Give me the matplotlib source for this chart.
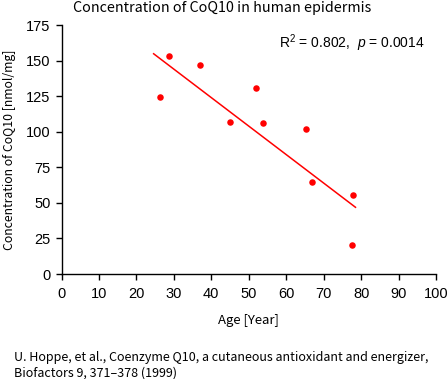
import matplotlib
matplotlib.use('Agg')
import matplotlib.pyplot as plt

# Data
ages = [26.3, 28.6, 37.1, 44.9, 52.0, 53.8, 65.2, 66.8, 77.9, 77.6]
coq10 = [124.1, 153.4, 146.6, 106.5, 130.9, 105.8, 101.6, 65.0, 55.6, 20.6]

# Regression line end points as drawn in the reference
fit_x = [24.6, 78.5]
fit_y = [154.8, 46.9]

x_ticks = [0, 10, 20, 30, 40, 50, 60, 70, 80, 90, 100]
y_ticks = [0, 25, 50, 75, 100, 125, 150, 175]

title = 'Concentration of CoQ10 in human epidermis'
x_label = 'Age [Year]'
y_label = 'Concentration of CoQ10 [nmol/mg]'
stats_text = r'R$^2$ = 0.802,  $p$ = 0.0014'
citation = ('U. Hoppe, et al., Coenzyme Q10, a cutaneous antioxidant and energizer,\n'
            'Biofactors 9, 371\u2013378 (1999)')

plt.rcParams['font.family'] = ['Noto Sans CJK JP', 'DejaVu Sans']
plt.rcParams['mathtext.fontset'] = 'custom'
plt.rcParams['mathtext.rm'] = 'Liberation Sans'
plt.rcParams['mathtext.it'] = 'Liberation Sans:italic'

fig = plt.figure(figsize=(4.47, 3.79), dpi=100)
ax = fig.add_axes([0.1376, 0.277, 0.8378, 0.657])

ax.scatter(ages, coq10, s=22, color='#ff0000', zorder=3, linewidths=0)
ax.plot(fit_x, fit_y, color='#ff0000', linewidth=1.1)

ax.set_xlim(0, 100)
ax.set_ylim(0, 175)
ax.set_xticks(x_ticks)
ax.set_yticks(y_ticks)
ax.tick_params(direction='out', length=4, width=1, labelsize=10.5)
ax.tick_params(axis='x', pad=5)
ax.tick_params(axis='y', pad=4)
for lbl in ax.get_xticklabels() + ax.get_yticklabels():
    lbl.set_family('Liberation Sans')

ax.spines['top'].set_visible(False)
ax.spines['right'].set_visible(False)
ax.spines['left'].set_linewidth(1)
ax.spines['bottom'].set_linewidth(1)

ax.set_xlabel(x_label, fontsize=9.5, labelpad=10)
ax.set_ylabel(y_label, fontsize=8.8, labelpad=7)

fig.text(0.497, 0.997, title, ha='center', va='top', fontsize=10.3)
ax.text(0.97, 0.925, stats_text, transform=ax.transAxes, ha='right', va='center',
        fontsize=10, family='Liberation Sans')

fig.text(0.032, 0.075, citation, ha='left', va='top', fontsize=9, linespacing=1.3)

fig.savefig('out.png', dpi=100)
